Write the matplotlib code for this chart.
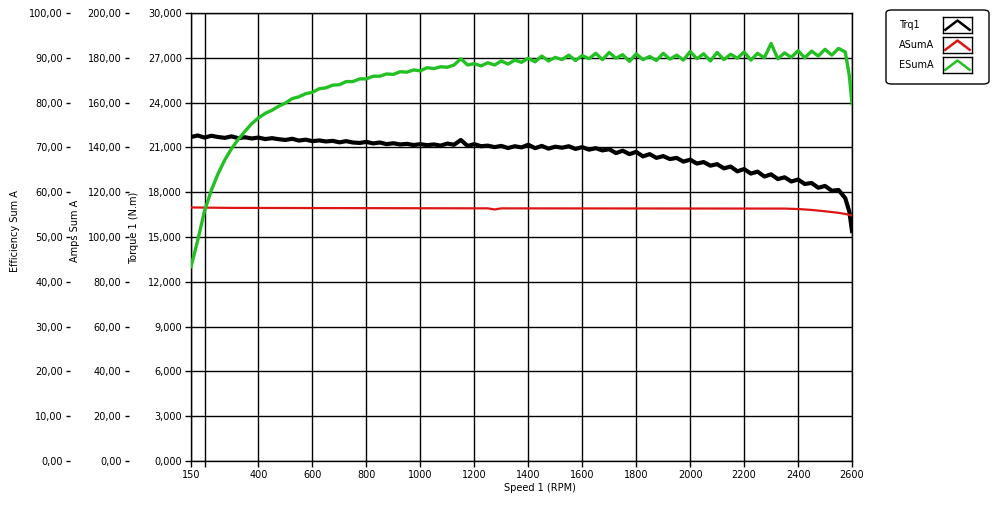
import matplotlib
matplotlib.use("Agg")
import matplotlib.pyplot as plt
from matplotlib.patches import FancyBboxPatch
from matplotlib.ticker import FuncFormatter, MultipleLocator

plt.rcParams["font.family"] = ["DejaVu Sans"]
plt.rcParams["font.size"]   = 7

# ── data ─────────────────────────────────────────────────────────────────────
speed = [150, 175, 200, 225, 250, 275, 300, 325, 350, 375,
         400, 425, 450, 475, 500, 525, 550, 575, 600, 625,
         650, 675, 700, 725, 750, 775, 800, 825, 850, 875,
         900, 925, 950, 975, 1000, 1025, 1050, 1075, 1100, 1125,
         1150, 1175, 1200, 1225, 1250, 1275, 1300, 1325, 1350, 1375,
         1400, 1425, 1450, 1475, 1500, 1525, 1550, 1575, 1600, 1625,
         1650, 1675, 1700, 1725, 1750, 1775, 1800, 1825, 1850, 1875,
         1900, 1925, 1950, 1975, 2000, 2025, 2050, 2075, 2100, 2125,
         2150, 2175, 2200, 2225, 2250, 2275, 2300, 2325, 2350, 2375,
         2400, 2425, 2450, 2475, 2500, 2525, 2550, 2575, 2590, 2600]

# Trq1, N.m
torque = [21.70, 21.80, 21.66, 21.78, 21.70, 21.64, 21.74, 21.62, 21.68, 21.60,
          21.66, 21.56, 21.62, 21.55, 21.50, 21.58, 21.46, 21.52, 21.42, 21.47,
          21.40, 21.44, 21.34, 21.42, 21.33, 21.30, 21.37, 21.27, 21.33, 21.22,
          21.28, 21.20, 21.24, 21.16, 21.22, 21.15, 21.20, 21.12, 21.26, 21.18,
          21.50, 21.10, 21.22, 21.08, 21.12, 21.02, 21.10, 20.96, 21.08, 21.00,
          21.18, 20.95, 21.10, 20.92, 21.05, 20.98, 21.08, 20.90, 21.02, 20.85,
          20.95, 20.80, 20.88, 20.62, 20.78, 20.55, 20.70, 20.40, 20.55, 20.30,
          20.42, 20.22, 20.30, 20.05, 20.18, 19.92, 20.02, 19.78, 19.88, 19.60,
          19.72, 19.40, 19.55, 19.25, 19.38, 19.05, 19.20, 18.88, 19.00, 18.72,
          18.85, 18.55, 18.62, 18.30, 18.42, 18.10, 18.15, 17.60, 16.70, 15.40]

# ESumA, %
efficiency = [43.4, 49.3, 55.8, 60.4, 64.1, 67.2, 69.7, 71.8, 73.6, 75.3,
              76.6, 77.6, 78.3, 79.2, 79.9, 80.9, 81.3, 82.0, 82.3, 83.1,
              83.3, 83.9, 84.0, 84.7, 84.7, 85.3, 85.3, 85.9, 85.9, 86.4,
              86.3, 86.9, 86.8, 87.3, 87.1, 87.8, 87.6, 88.0, 87.9, 88.4,
              89.8, 88.4, 88.7, 88.2, 88.9, 88.4, 89.3, 88.6, 89.5, 89.0,
              89.9, 89.1, 90.4, 89.3, 90.1, 89.6, 90.6, 89.4, 90.5, 89.8,
              91.0, 89.6, 91.2, 89.9, 90.7, 89.2, 90.9, 89.6, 90.3, 89.4,
              91.0, 89.7, 90.6, 89.5, 91.4, 89.8, 90.9, 89.3, 91.2, 89.6,
              90.8, 89.9, 91.3, 89.5, 91.0, 90.0, 93.2, 89.8, 91.1, 90.1,
              91.6, 90.0, 91.5, 90.4, 91.9, 90.6, 92.1, 91.3, 86.0, 79.8]

# ASumA, A
amp_speed = [150, 300, 1250, 1275, 1300, 2350, 2400, 2450, 2500, 2550, 2575, 2600]
amps      = [113.2, 113.0, 112.8, 112.3, 112.8, 112.7, 112.5, 112.1, 111.5, 110.8, 110.3, 109.6]

x_ticks  = [150, 200, 400, 600, 800, 1000, 1200, 1400, 1600, 1800, 2000, 2200, 2400, 2600]
x_labels = ["150", ""] + [str(t) for t in x_ticks[2:]]

series_names = ["Trq1", "ASumA", "ESumA"]
colors       = ["#000000", "#dd1515", "#22c022"]


def comma_fmt(decimals):
    return FuncFormatter(lambda v, _: f"{v:.{decimals}f}".replace(".", ","))


# ── figure ───────────────────────────────────────────────────────────────────
fig = plt.figure(figsize=(10.07, 5.11), dpi=100)
ax  = fig.add_axes([0.1897, 0.0978, 0.6564, 0.8767])

ax_amp = ax.twinx()
ax_eff = ax.twinx()

ax.plot(speed, torque, color=colors[0], lw=3.0, zorder=3)
ax_amp.plot(amp_speed, amps, color=colors[1], lw=1.6)
ax_eff.plot(speed, efficiency, color=colors[2], lw=2.4)

ax.set_xlim(150, 2600)
ax.set_ylim(0, 30)
ax_amp.set_ylim(0, 200)
ax_eff.set_ylim(0, 100)

ax.set_xticks(x_ticks)
ax.set_xticklabels(x_labels)
ax.yaxis.set_major_locator(MultipleLocator(3))
ax.yaxis.set_major_formatter(comma_fmt(3))
ax_amp.yaxis.set_major_locator(MultipleLocator(20))
ax_amp.yaxis.set_major_formatter(comma_fmt(2))
ax_eff.yaxis.set_major_locator(MultipleLocator(10))
ax_eff.yaxis.set_major_formatter(comma_fmt(2))

ax.grid(True, color="black", lw=1.0)
ax.set_axisbelow(True)
for s in ax.spines.values():
    s.set_color("black")
    s.set_linewidth(1.0)

ax.tick_params(axis="both", direction="out", length=4.5, width=1, pad=2, labelsize=7)

for tw, offset in [(ax_amp, 44.6), (ax_eff, 86.8)]:
    tw.yaxis.tick_left()
    tw.yaxis.set_label_position("left")
    for s in tw.spines.values():
        s.set_visible(False)
    tw.spines["left"].set_position(("outward", offset))
    tw.tick_params(axis="y", direction="out", length=3, width=1, pad=2.5, labelsize=7)

ax.set_xlabel("Speed 1 (RPM)", fontsize=7)
ax.xaxis.set_label_coords(0.528, -0.05)
ax.set_ylabel("Torque 1 (N.m)", fontsize=7)
ax.yaxis.set_label_coords(-0.078, 0.52)
ax_amp.set_ylabel("Amps Sum A", fontsize=7)
ax_amp.yaxis.set_label_coords(-0.168, 0.513)
ax_eff.set_ylabel("Efficiency Sum A", fontsize=7)
ax_eff.yaxis.set_label_coords(-0.258, 0.513)

# ── legend (LabVIEW style plot legend) ──────────────────────────────────────
W, H = 1007, 511
box = FancyBboxPatch((886 / W, (H - 84) / H), 103 / W, 74 / H,
                     boxstyle="round,pad=0,rounding_size=0.006",
                     transform=fig.transFigure, facecolor="white",
                     edgecolor="black", lw=1.0, zorder=0)
fig.patches.append(box)

rows_y = [25, 45, 65]
for name, col, yc in zip(series_names, colors, rows_y):
    fig.text(899 / W, (H - yc) / H, name, ha="left", va="center", fontsize=7, zorder=5)
    icon = fig.add_axes([943 / W, (H - yc - 8) / H, 29 / W, 16 / H])
    icon.set_zorder(5)
    icon.plot([0.08, 0.5, 0.92], [0.2, 0.78, 0.2], color=col, lw=1.8)
    icon.set_xlim(0, 1)
    icon.set_ylim(0, 1)
    icon.set_xticks([])
    icon.set_yticks([])
    for s in icon.spines.values():
        s.set_linewidth(1.0)

fig.savefig("out.png", dpi=100)
